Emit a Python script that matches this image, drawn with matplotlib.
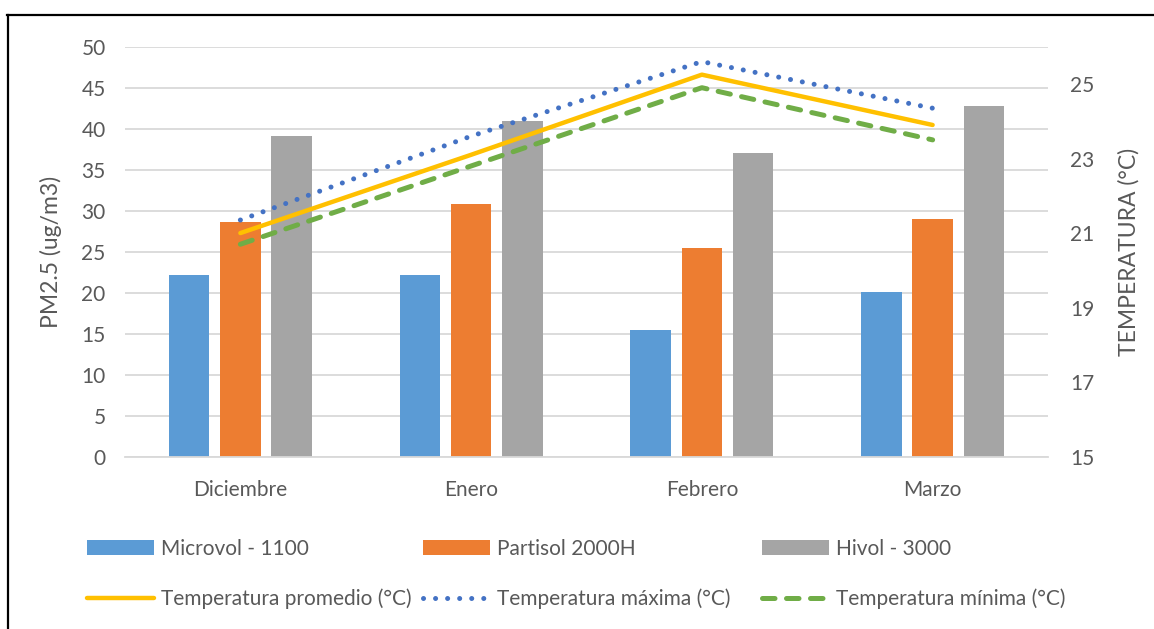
import numpy as np
import matplotlib.pyplot as plt
from matplotlib.lines import Line2D

plt.rcParams['font.family'] = ['Lato', 'DejaVu Sans']

meses = ["Diciembre", "Enero", "Febrero", "Marzo"]

# PM2.5 por equipo (ug/m3)
microvol = [22.2, 22.1, 15.4, 20.1]
partisol = [28.6, 30.8, 25.4, 29.0]
hivol = [39.1, 41.0, 37.0, 42.8]

# temperaturas (°C)
temp_prom = [21.0, 23.1, 25.25, 23.9]
temp_max = [21.35, 23.6, 25.6, 24.35]
temp_min = [20.7, 22.8, 24.9, 23.5]

gris_txt = "#595959"
c_micro, c_parti, c_hivol = "#5B9BD5", "#ED7D31", "#A5A5A5"
c_prom, c_max, c_min = "#FFC000", "#4472C4", "#70AD47"

W, H = 1154, 629
fig = plt.figure(figsize=(W / 100, H / 100), dpi=100)
ax = fig.add_axes([125 / W, (H - 456.7) / H, (1048 - 125) / W, (456.7 - 46.7) / H])
ax2 = ax.twinx()

x = np.arange(len(meses))
ancho = 0.1755
paso = 0.2223
b1 = ax.bar(x - paso, microvol, ancho, color=c_micro, label="Microvol - 1100", zorder=2)
b2 = ax.bar(x, partisol, ancho, color=c_parti, label="Partisol 2000H", zorder=2)
b3 = ax.bar(x + paso, hivol, ancho, color=c_hivol, label="Hivol - 3000", zorder=2)

l1, = ax2.plot(x, temp_prom, color=c_prom, lw=3.2, solid_capstyle='round',
               label="Temperatura promedio (°C)")
l2, = ax2.plot(x, temp_max, color=c_max, lw=3.6, linestyle=(0, (0.01, 2.4)),
               dash_capstyle='round', label="Temperatura máxima (°C)")
l3, = ax2.plot(x, temp_min, color=c_min, lw=3.6, linestyle=(0, (2.5, 2.3)),
               dash_capstyle='round', label="Temperatura mínima (°C)")

ax.set_xlim(-0.5, len(meses) - 0.5)
ax.set_ylim(0, 50)
ax.set_yticks(np.arange(0, 51, 5))
ax2.set_ylim(15, 26)
ax2.set_yticks(np.arange(15, 26, 2))
ax.set_xticks(x)
ax.set_xticklabels(meses)

ax.grid(axis='y', color="#D9D9D9", lw=1.3, zorder=0)
ax.set_axisbelow(True)
for a in (ax, ax2):
    for s in a.spines.values():
        s.set_visible(False)
ax.spines['bottom'].set_visible(True)
ax.spines['bottom'].set_color("#D9D9D9")
ax.spines['bottom'].set_linewidth(1.3)

ax.tick_params(axis='y', length=0, pad=14, labelsize=15, labelcolor=gris_txt)
ax.tick_params(axis='x', length=0, pad=17, labelsize=15, labelcolor=gris_txt)
ax2.tick_params(axis='y', length=0, pad=16, labelsize=15, labelcolor=gris_txt)

ax.set_ylabel("PM2.5 (ug/m3)", fontsize=16.5, color=gris_txt)
ax.yaxis.set_label_coords((62 - 125) / (1048 - 125), 0.5)
ax2.set_ylabel("TEMPERATURA (°C)", fontsize=16.5, color=gris_txt)
ax2.yaxis.set_label_coords((1118 - 125) / (1048 - 125), 0.5)

# leyenda en tres columnas, dos filas
grupos = [(b1, l1), (b2, l2), (b3, l3)]
x_col = [87, 423, 762]
for (barra, linea), xc in zip(grupos, x_col):
    leg = fig.legend([barra, linea], [barra.get_label(), linea.get_label()],
                     loc='upper left', bbox_to_anchor=(xc / W, 1 - 539 / H),
                     frameon=False, fontsize=15, handlelength=3.2, handletextpad=0.33,
                     labelspacing=1.42, borderaxespad=0, borderpad=0)
    for t in leg.get_texts():
        t.set_color(gris_txt)

# marco
fig.add_artist(Line2D([7 / W, 1], [1 - 15 / H, 1 - 15 / H], color="black", lw=1.6))
fig.add_artist(Line2D([8 / W, 8 / W], [0, 1 - 15 / H], color="black", lw=1.6))

fig.savefig("out.png", dpi=100)
